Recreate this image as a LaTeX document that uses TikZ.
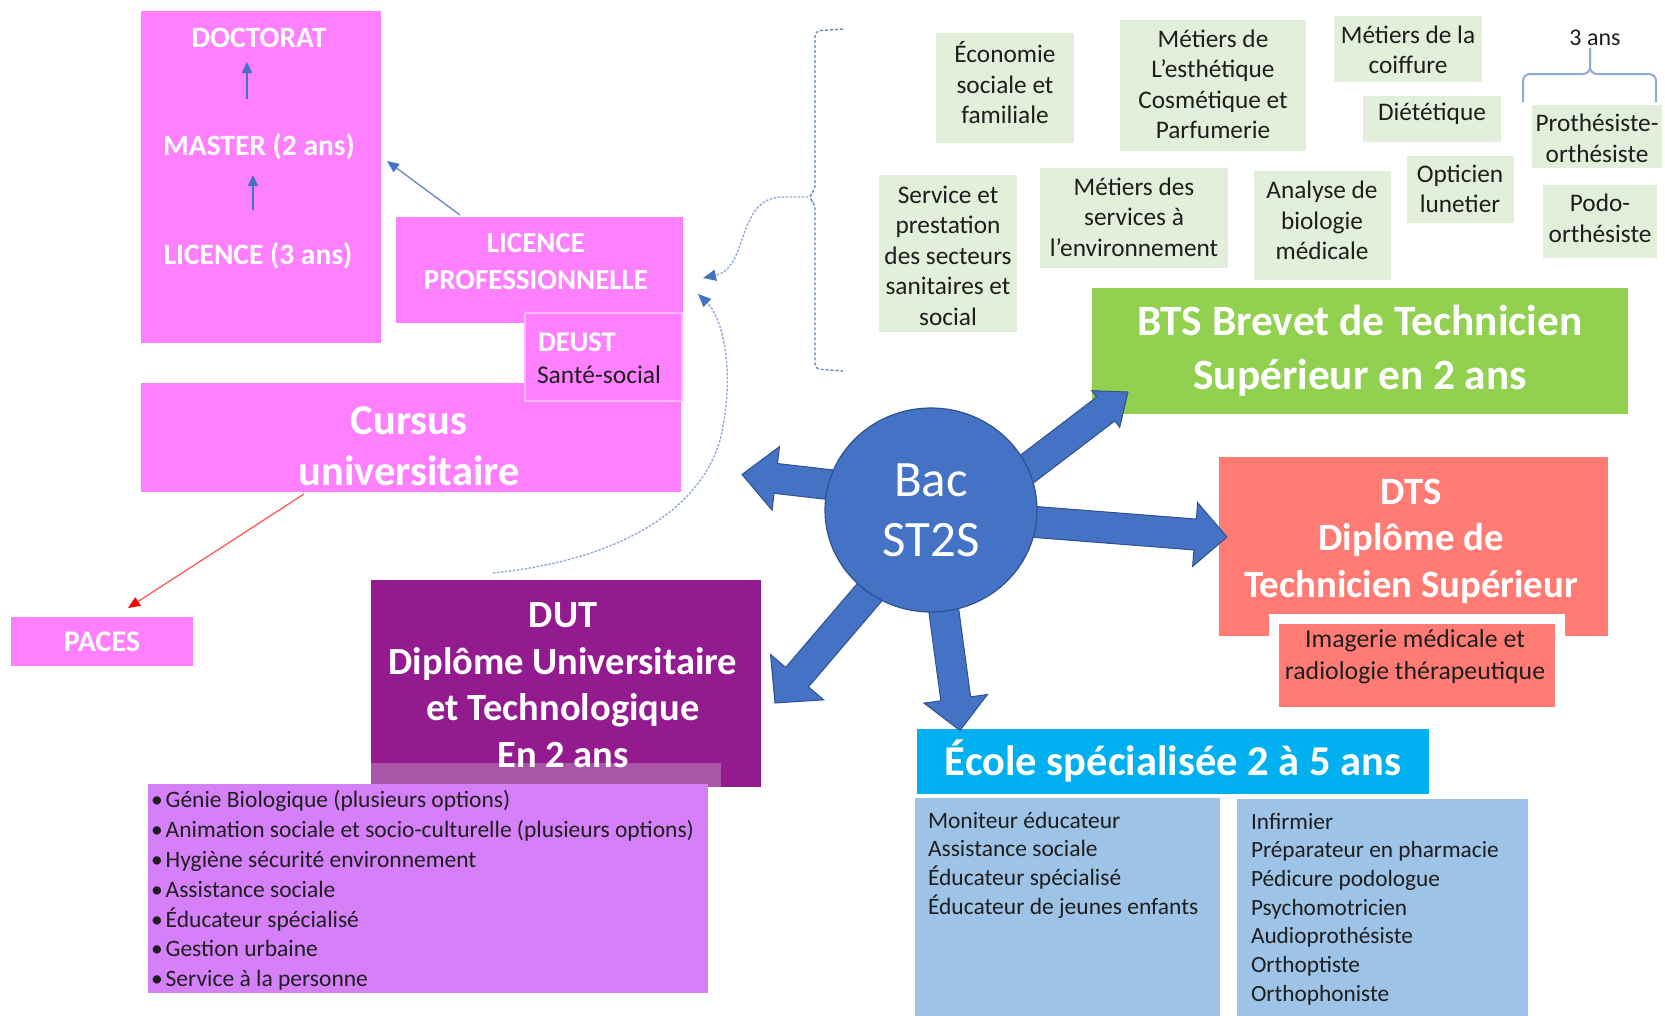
\documentclass[tikz,border=0pt]{standalone}
\usepackage{fontspec}
\setmainfont{Carlito}
\usetikzlibrary{calc,arrows.meta,shapes.geometric}
\definecolor{pinkc}{HTML}{FF80FF}
\definecolor{pinkline}{HTML}{FFB8FF}
\definecolor{dutc}{HTML}{931B8F}
\definecolor{stripc}{HTML}{A956A9}
\definecolor{listc}{HTML}{D580F8}
\definecolor{greenc}{HTML}{E2EFDA}
\definecolor{btsc}{HTML}{92D050}
\definecolor{dtsc}{HTML}{FF7B73}
\definecolor{ecolec}{HTML}{00B0F0}
\definecolor{lbluec}{HTML}{9DC3E6}
\definecolor{bacc}{HTML}{4472C4}
\definecolor{bacline}{HTML}{2F528F}
\definecolor{linkc}{HTML}{8EAADB}
\definecolor{bracec}{HTML}{5B7FC8}
\definecolor{darktext}{HTML}{1E1E1E}
\newcommand\fs[2]{\fontsize{#1pt}{#2pt}\selectfont}
\newcommand\rbox[6]{\node[#2, minimum width={#5-#3}, minimum height={#6-#4}] (#1) at ({(#3+#5)/2},{(#4+#6)/2}) {};}
\newcommand\gbox[8]{\rbox{#1}{greenbox}{#2}{#3}{#4}{#5}\node[dt, align=center, font={\fs{25.3}{30.5}}] (#1t) at (#6,#7) {#8};}
\newcommand\blockarr[5]{%
  \coordinate (bh) at ($(#2)!#5!(#1)$);
  \filldraw[blockarrow] ($(#1)!#3!90:(#2)$) -- ($(bh)!#3!90:(#2)$) -- ($(bh)!#4!90:(#2)$) -- (#2) -- ($(bh)!#4!-90:(#2)$) -- ($(bh)!#3!-90:(#2)$) -- ($(#1)!#3!-90:(#2)$) -- cycle;}
\begin{document}
\begin{tikzpicture}[x=1pt,y=-1pt,
  base/.style={inner sep=0pt, outer sep=0pt},
  wt/.style={base, text=white},
  dt/.style={base, text=darktext},
  pinkbox/.style={base, fill=pinkc},
  dutbox/.style={base, fill=dutc},
  stripbox/.style={base, fill=stripc},
  listbox/.style={base, fill=listc},
  greenbox/.style={base, fill=greenc},
  btsbox/.style={base, fill=btsc},
  dtsbox/.style={base, fill=dtsc},
  ecolebox/.style={base, fill=ecolec},
  lbbox/.style={base, fill=lbluec},
  blockarrow/.style={fill=bacc, draw=bacline, line width=1pt, line join=miter},
  smallarr/.style={draw=bacc, line width=2pt, -{Triangle[length=11pt,width=10pt]}},
  thinblue/.style={draw=bacc!80, line width=1.4pt, -{Triangle[length=12pt,width=10pt,color=bacc]}},
  redarr/.style={draw=red!65, line width=1.3pt, -{Triangle[length=12pt,width=10pt,color=red]}},
  linkarr/.style={draw=linkc, line width=1.4pt, dash pattern=on 2.5pt off 1.5pt, -{Triangle[length=13pt,width=11pt,color=bacc]}},
  bracketline/.style={draw=bracec, line width=1.3pt, dash pattern=on 3pt off 2pt},
  bracestyle/.style={draw=linkc, line width=2pt},
  pinklabel/.style={wt, font={\bfseries\fs{29.5}{35}}}
]
\useasboundingbox (0,0) rectangle (1665,1015);

% ---- university column ----
\rbox{univ}{pinkbox}{141}{11}{381}{343}
\node[pinklabel] (doct) at (259,38) {DOCTORAT};
\node[pinklabel] (mast) at (259,147) {MASTER (2 ans)};
\node[pinklabel] (lic) at (258,256) {LICENCE (3 ans)};
\draw[smallarr] ($(mast.center)+(-12,-48)$) -- ($(doct.center)+(-12,24)$);
\draw[smallarr] ($(lic.center)+(-5,-46)$) -- ($(mast.center)+(-6,28)$);

\rbox{lpro}{pinkbox}{396}{217}{683}{323}
\node[pinklabel, align=center, font={\bfseries\fs{29}{37}}] (lprot) at (536,261.5) {LICENCE\\PROFESSIONNELLE};
\draw[thinblue] ($(lpro.north west)+(64,-2)$) -- ($(univ.east)+(6,-16)$);

\rbox{cursus}{pinkbox}{141}{383}{681}{492}
\node[wt, align=center, font={\bfseries\fs{42.5}{51}}] (cursust) at (409,446.5) {Cursus\\universitaire};

\rbox{deust}{pinkbox, draw=pinkline, line width=1.5pt}{525}{313}{682}{401}
\node[pinklabel, anchor=west, font={\bfseries\fs{28.5}{30}}] (deustt) at (538,342) {DEUST};
\node[dt, anchor=west, font={\fs{25.5}{30}}] (sante) at (537,375) {Santé-social};

\node[pinkbox, text=white, font={\bfseries\fs{30}{35}}, minimum width=182, minimum height=49] (paces) at (102,641.5) {PACES};
\draw[redarr] ($(cursus.south)+(-107,2)$) -- ($(paces.north)+(26,-9)$);

% ---- DUT ----
\rbox{dut}{dutbox}{371}{580}{761}{787}
\rbox{dutstrip}{stripbox}{371}{763}{721}{787}
\node[wt, align=center, font={\bfseries\fs{38.5}{46.7}}] (dutt) at (563,685) {DUT\\Diplôme Universitaire\\et Technologique\\En 2 ans};
\rbox{dutlistbox}{listbox}{148}{784}{708}{993}
\node[dt, anchor=west, align=left, font={\fs{23.5}{29.8}}] (dutlist) at (151,890.5) {%
\textbullet\hspace{3pt}Génie Biologique (plusieurs options)\\
\textbullet\hspace{3pt}Animation sociale et socio-culturelle (plusieurs options)\\
\textbullet\hspace{3pt}Hygiène sécurité environnement\\
\textbullet\hspace{3pt}Assistance sociale\\
\textbullet\hspace{3pt}Éducateur spécialisé\\
\textbullet\hspace{3pt}Gestion urbaine\\
\textbullet\hspace{3pt}Service à la personne};

% ---- dotted connectors ----
\draw[bracketline, rounded corners=5pt] (843,29) -- (815,31) -- (815,190) -- (808,197) -- (815,204) -- (815,369) -- (843,371);
\coordinate (brmid) at (808,197);
\coordinate (lproinA) at ($(lpro.east)+(20,8)$);
\coordinate (lproinB) at ($(lpro.east)+(15,24)$);
\coordinate (dutout) at ($(dut.north)+(-73,-7)$);
\draw[linkarr] (brmid) -- (785,197) .. controls (735,195) and (750,268) .. (lproinA);
\draw[linkarr] (dutout) .. controls (620,560) and (700,510) .. (720,440) .. controls (735,380) and (725,320) .. (lproinB);

% ---- BTS specialities ----
\gbox{eco}{936}{33}{1074}{143}{1005}{83}{Économie\\sociale et\\familiale}
\gbox{esth}{1120}{20}{1306}{151}{1213}{84.5}{Métiers de\\L’esthétique\\Cosmétique et\\Parfumerie}
\gbox{coif}{1334}{16}{1482}{82}{1408}{50}{Métiers de la\\coiffure}
\gbox{diet}{1363}{96}{1501}{142}{1432}{114}{Diététique}
\gbox{proth}{1532}{105}{1662}{168}{1597}{138.5}{Prothésiste-\\orthésiste}
\gbox{serv}{879}{175}{1017}{332}{948}{255.5}{Service et\\prestation\\des secteurs\\sanitaires et\\social}
\gbox{msvc}{1040}{168}{1228}{268}{1134}{217}{Métiers des\\services à\\l’environnement}
\gbox{anal}{1254}{171}{1391}{280}{1322}{220.5}{Analyse de\\biologie\\médicale}
\gbox{opti}{1407}{156}{1514}{223}{1460}{189}{Opticien\\lunetier}
\gbox{podo}{1543}{185}{1657}{258}{1600}{218.5}{Podo-\\orthésiste}
\node[dt, font={\fs{24}{30}}] (trois) at (1595,38) {3 ans};
\draw[bracestyle, rounded corners=7pt] (1523,102) -- (1523,74) -- (1590,74) -- (1590,48);
\draw[bracestyle, rounded corners=7pt] (1590,48) -- (1590,74) -- (1656,74) -- (1656,102);

\node[btsbox, text=white, align=center, font={\bfseries\fs{43.3}{54}}, minimum width=536, minimum height=126] (bts) at (1360,351) {BTS Brevet de Technicien\\Supérieur en 2 ans};

% ---- DTS ----
\rbox{dts}{dtsbox}{1219}{457}{1608}{636}
\node[wt, align=center, font={\bfseries\fs{38.7}{46.5}}] (dtst) at (1411,541) {DTS\\Diplôme de\\Technicien Supérieur};
\rbox{imag}{dtsbox, draw=white, line width=10pt}{1274}{619}{1560}{712}
\node[dt, align=center, font={\fs{25.8}{32}}] (imagt) at (1415,657) {Imagerie médicale et\\radiologie thérapeutique};

% ---- Ecole ----
\node[ecolebox, text=white, font={\bfseries\fs{42.5}{48}}, minimum width=512, minimum height=65] (ecole) at (1173,761) {École spécialisée 2 à 5 ans};
\rbox{lb1}{lbbox}{915}{798}{1220}{1016}
\rbox{lb2}{lbbox}{1237}{799}{1528}{1016}
\node[dt, anchor=west, align=left, font={\fs{23.5}{28.7}}] (lb1t) at (928,865) {Moniteur éducateur\\Assistance sociale\\Éducateur spécialisé\\Éducateur de jeunes enfants};
\node[dt, anchor=west, align=left, font={\fs{23.3}{28.7}}] (lb2t) at (1251,909) {Infirmier\\Préparateur en pharmacie\\Pédicure podologue\\Psychomotricien\\Audioprothésiste\\Orthoptiste\\Orthophoniste};

% ---- block arrows from Bac ----
\coordinate (bacc0) at (931,510);
\coordinate (aLb) at ($(bacc0)+(-81,-23)$);  \coordinate (aLt) at ($(cursus.east)+(61,37)$);
\coordinate (aRb) at ($(bacc0)+(79,10)$);    \coordinate (aRt) at ($(dts.west)+(8,-9.5)$);
\coordinate (aDb) at ($(bacc0)+(10,80)$);    \coordinate (aDt) at ($(ecole.north)+(-213,2)$);
\coordinate (aDLb) at ($(bacc0)+(-51,70)$);  \coordinate (aDLt) at ($(dut.east)+(14,19.5)$);
\coordinate (aURb) at ($(bacc0)+(79,-28)$);  \coordinate (aURt) at ($(bts.south west)+(36,-22)$);
\blockarr{aLb}{aLt}{15pt}{32pt}{34pt}
\blockarr{aRb}{aRt}{15.5pt}{32pt}{32pt}
\blockarr{aDb}{aDt}{15pt}{32pt}{32pt}
\blockarr{aDLb}{aDLt}{15pt}{35pt}{34pt}
\blockarr{aURb}{aURt}{15pt}{23pt}{28pt}

\node[ellipse, base, fill=bacc, draw=bacline, line width=1.2pt, minimum width=212, minimum height=204, text=white, align=center, font={\fs{51}{60}}] (bac) at (bacc0) {Bac\\ST2S};
\end{tikzpicture}
\end{document}
